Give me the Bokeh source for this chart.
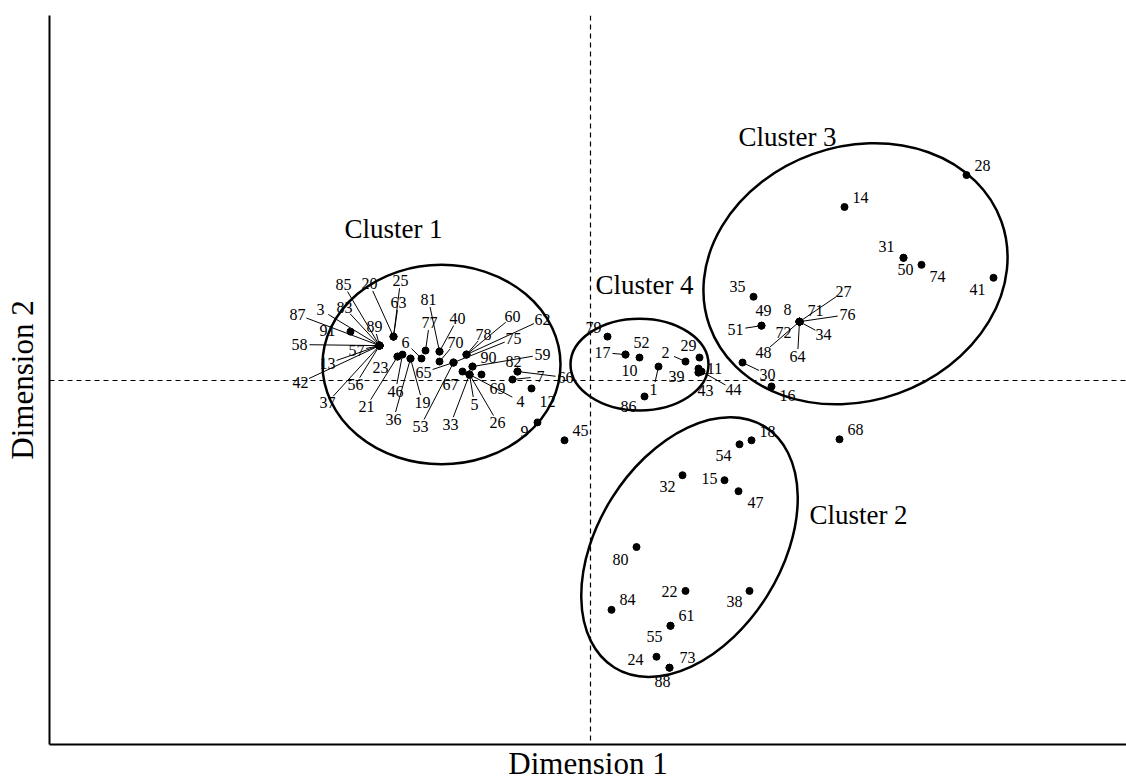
import numpy as np
from bokeh.plotting import figure
from bokeh.models import Span, ColumnDataSource, FixedTicker
from bokeh.embed import file_html
from bokeh.resources import INLINE
from bokeh.core.properties import value

# ---- observations: id, coordinates on the two dimensions ----
obs_id = ["87", "3", "85", "83", "91", "89", "58", "57", "13", "42", "56", "37",
          "20", "25", "63", "6", "23", "21", "46", "36", "19", "65", "53", "77",
          "81", "40", "70", "78", "60", "62", "75", "90", "59", "82", "66", "7",
          "4", "69", "12", "9", "5", "33", "26", "67", "45",
          "79", "17", "10", "52", "2", "29", "11", "39", "43", "44", "1", "86",
          "35", "49", "8", "71", "27", "76", "51", "72", "34", "64", "48", "30",
          "16", "14", "28", "31", "50", "74", "41", "68",
          "18", "54", "32", "15", "47", "80", "22", "38", "84", "61", "55", "24",
          "73", "88"]
obs_x = [-2.11, -2.11, -2.11, -2.11, -2.40, -2.11, -2.11, -2.11, -2.11, -2.11, -2.11, -2.11,
         -1.97, -1.97, -1.97, -1.69, -1.93, -1.93, -1.88, -1.80, -1.80, -1.37, -1.37, -1.65,
         -1.51, -1.51, -1.51, -1.24, -1.24, -1.24, -1.37, -1.18, -1.18, -0.73, -0.73, -0.78,
         -1.21, -1.09, -0.59, -0.53, -1.21, -1.21, -1.21, -1.28, -0.26,
         0.17, 0.35, 0.35, 0.49, 0.95, 1.09, 1.08, 1.08, 1.08, 1.11, 0.68, 0.54,
         1.63, 1.71, 2.09, 2.09, 2.09, 2.09, 1.71, 2.09, 2.09, 2.09, 2.09, 1.52,
         1.81, 2.54, 3.76, 3.13, 3.13, 3.31, 4.03, 2.49,
         1.61, 1.49, 0.92, 1.34, 1.48, 0.46, 0.95, 1.59, 0.21, 0.80, 0.80, 0.66,
         0.79, 0.79]
obs_y = [0.35, 0.35, 0.35, 0.35, 0.49, 0.35, 0.35, 0.35, 0.35, 0.35, 0.35, 0.35,
         0.44, 0.44, 0.44, 0.22, 0.24, 0.24, 0.26, 0.22, 0.22, 0.18, 0.18, 0.30,
         0.29, 0.29, 0.19, 0.26, 0.26, 0.26, 0.18, 0.14, 0.14, 0.09, 0.09, 0.01,
         0.06, 0.06, -0.08, -0.42, 0.06, 0.06, 0.06, 0.09, -0.60,
         0.44, 0.26, 0.26, 0.23, 0.19, 0.23, 0.12, 0.08, 0.08, 0.09, 0.14, -0.16,
         0.84, 0.55, 0.59, 0.59, 0.59, 0.59, 0.55, 0.59, 0.59, 0.59, 0.59, 0.18,
         -0.06, 1.74, 2.06, 1.23, 1.23, 1.16, 1.03, -0.59,
         -0.60, -0.64, -0.95, -1.00, -1.11, -1.67, -2.11, -2.11, -2.30, -2.46, -2.46, -2.77,
         -2.88, -2.88]

# ---- where each observation's number is written ----
lab_x = [-2.93, -2.70, -2.47, -2.46, -2.63, -2.16, -2.91, -2.34, -2.63, -2.90, -2.35, -2.63,
         -2.21, -1.90, -1.92, -1.85, -2.10, -2.24, -1.95, -1.97, -1.68, -1.67, -1.70, -1.61,
         -1.62, -1.33, -1.35, -1.07, -0.78, -0.48, -0.77, -1.02, -0.48, -0.77, -0.25, -0.50,
         -0.70, -0.93, -0.43, -0.66, -1.16, -1.40, -0.93, -1.40, -0.10,
         0.03, 0.12, 0.39, 0.51, 0.75, 0.98, 1.24, 0.86, 1.15, 1.43, 0.63, 0.38,
         1.47, 1.73, 1.97, 2.25, 2.53, 2.57, 1.45, 1.93, 2.33, 2.07, 1.73, 1.77,
         1.97, 2.70, 3.92, 2.96, 3.15, 3.47, 3.87, 2.65,
         1.77, 1.33, 0.77, 1.19, 1.65, 0.30, 0.79, 1.44, 0.37, 0.96, 0.64, 0.45,
         0.97, 0.72]
lab_y = [0.66, 0.71, 0.96, 0.73, 0.50, 0.54, 0.36, 0.30, 0.17, -0.02, -0.04, -0.22,
         0.97, 1.00, 0.78, 0.38, 0.13, -0.26, -0.11, -0.39, -0.22, 0.08, -0.46, 0.58,
         0.81, 0.62, 0.38, 0.46, 0.64, 0.61, 0.42, 0.23, 0.26, 0.19, 0.03, 0.04,
         -0.21, -0.08, -0.21, -0.51, -0.24, -0.44, -0.42, -0.04, -0.50,
         0.53, 0.28, 0.10, 0.38, 0.28, 0.35, 0.12, 0.04, -0.10, -0.09, -0.09, -0.26,
         0.94, 0.70, 0.71, 0.70, 0.89, 0.66, 0.51, 0.48, 0.46, 0.24, 0.28, 0.06,
         -0.15, 1.84, 2.16, 1.34, 1.11, 1.04, 0.91, -0.49,
         -0.51, -0.75, -1.06, -0.98, -1.22, -1.79, -2.12, -2.22, -2.20, -2.36, -2.57, -2.80,
         -2.78, -3.02]
# 1 = number is joined to its point by a leader line
leader = [1, 1, 1, 1, 0, 1, 1, 1, 1, 1, 1, 1,
          1, 1, 1, 1, 0, 1, 1, 1, 1, 1, 1, 1,
          1, 1, 1, 1, 1, 1, 1, 0, 1, 0, 1, 1,
          1, 0, 0, 0, 1, 1, 1, 0, 0,
          0, 1, 0, 0, 1, 0, 0, 0, 0, 1, 1, 0,
          0, 0, 0, 0, 1, 1, 1, 0, 1, 1, 1, 1,
          0, 0, 0, 0, 0, 0, 0, 0,
          0, 0, 0, 0, 0, 0, 0, 0, 0, 0, 0, 0,
          0, 0]

# ---- clusters (ellipse centre, axes, tilt) ----
cl_name = ["Cluster 1", "Cluster 2", "Cluster 3", "Cluster 4"]
cl_x = [-1.49, 0.99, 2.65, 0.49]
cl_y = [0.16, -1.67, 1.07, 0.16]
cl_w = [2.38, 2.84, 3.10, 1.38]
cl_h = [2.00, 1.84, 2.55, 0.92]
cl_angle_deg = [0.0, 58.0, 19.7, 0.0]
cl_title_x = [-1.97, 2.68, 1.97, 0.54]
cl_title_y = [1.52, -1.35, 2.44, 0.96]

SERIF = "Liberation Serif"

p = figure(width=1126, height=783, output_backend="svg", toolbar_location=None,
           x_range=(-5.41, 5.36), y_range=(-3.65, 3.66),
           min_border_left=49, min_border_right=0, min_border_top=15, min_border_bottom=37)
p.grid.visible = False
p.outline_line_color = None
p.background_fill_color = "white"
p.border_fill_color = "white"

for ax in (p.xaxis, p.yaxis):
    ax.ticker = FixedTicker(ticks=[])
    ax.major_tick_line_color = None
    ax.minor_tick_line_color = None
    ax.major_label_text_font_size = "0px"
    ax.axis_line_width = 2
    ax.axis_line_color = "black"
    ax.axis_label_text_font = SERIF
    ax.axis_label_text_font_style = "normal"
    ax.axis_label_text_font_size = "31px"
    ax.axis_label_text_color = "black"

p.xaxis.axis_label_standoff = 1
p.yaxis.axis_label_standoff = 10
p.xaxis.axis_label = "Dimension 1"
p.yaxis.axis_label = "Dimension 2"

p.add_layout(Span(location=0, dimension="height", line_color="black", line_width=1.2, line_dash="5 4"))
p.add_layout(Span(location=0, dimension="width", line_color="black", line_width=1.2, line_dash="5 4"))

# ellipses
p.ellipse(x=cl_x, y=cl_y, width=cl_w, height=cl_h, angle=np.radians(cl_angle_deg),
          fill_color=None, line_color="black", line_width=2.5)

# leader lines from label edge to point
ox, oy = np.array(obs_x), np.array(obs_y)
lx, ly = np.array(lab_x), np.array(lab_y)
ld = np.array(leader, dtype=bool)
dx, dy = ox - lx, oy - ly
dist = np.hypot(dx, dy)
ux, uy = dx / dist, dy / dist
hw, hh = 0.10, 0.075
r = 1.0 / np.sqrt((ux / hw) ** 2 + (uy / hh) ** 2)
x0 = lx + ux * r
y0 = ly + uy * r
p.segment(x0=x0[ld], y0=y0[ld], x1=ox[ld], y1=oy[ld], line_color="black", line_width=1)

p.scatter(x=obs_x, y=obs_y, size=7, color="black")

src = ColumnDataSource(dict(x=lab_x, y=lab_y, t=obs_id))
p.text(x="x", y="y", text="t", source=src, text_font=value(SERIF), text_font_size="16px",
       text_align="center", text_baseline="middle", text_color="black")

p.text(x=cl_title_x, y=cl_title_y, text=cl_name, text_font=value(SERIF), text_font_size="27px",
       text_align="center", text_baseline="middle", text_color="black")

open("out.html", "w").write(file_html(p, INLINE))
